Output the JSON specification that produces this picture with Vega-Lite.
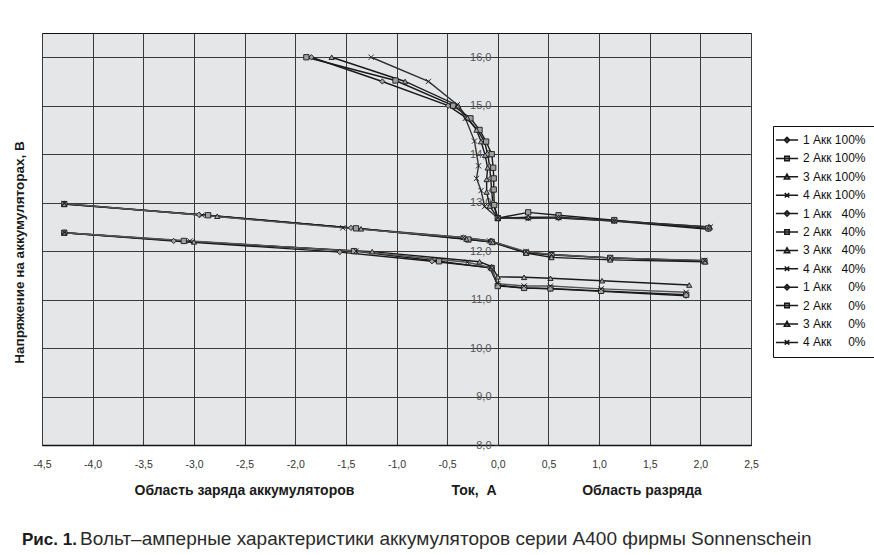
{
  "$schema": "https://vega.github.io/schema/vega-lite/v6.json",
  "width": 709,
  "height": 412,
  "autosize": {"type": "none"},
  "padding": {"left": 42, "top": 33, "right": 123, "bottom": 110},
  "background": "#ffffff",
  "config": {
    "view": {"fill": "#e5e6e8", "stroke": "#111111", "strokeWidth": 1},
    "axis": {"labelFlush": false, "labelOverlap": false, "gridColor": "#3a3a3a", "gridWidth": 1, "gridOpacity": 1}
  },
  "title": {
    "text": "Рис. 1.",
    "subtitle": "\u200b\u00a0\u00a0\u00a0\u00a0\u00a0\u00a0\u00a0\u00a0\u00a0\u00a0\u00a0Вольт–амперные характеристики аккумуляторов серии А400 фирмы Sonnenschein",
    "orient": "bottom",
    "anchor": "start",
    "frame": "group",
    "dx": -20,
    "offset": 35,
    "font": "Liberation Sans, Arial",
    "fontSize": 17,
    "fontWeight": "bold",
    "color": "#1a1a1a",
    "subtitleFont": "Liberation Sans, Arial",
    "subtitleFontSize": 19,
    "subtitleColor": "#2a2a2a",
    "subtitlePadding": -18.8
  },
  "datasets": {
    "iv": [
      {"s": "1 Акк 100%", "i": 0, "x": -1.84, "y": 16.0},
      {"s": "1 Акк 100%", "i": 1, "x": -1.14, "y": 15.5},
      {"s": "1 Акк 100%", "i": 2, "x": -0.49, "y": 15.0},
      {"s": "1 Акк 100%", "i": 3, "x": -0.31, "y": 14.75},
      {"s": "1 Акк 100%", "i": 4, "x": -0.2, "y": 14.5},
      {"s": "1 Акк 100%", "i": 5, "x": -0.13, "y": 14.25},
      {"s": "1 Акк 100%", "i": 6, "x": -0.1, "y": 14.0},
      {"s": "1 Акк 100%", "i": 7, "x": -0.08, "y": 13.75},
      {"s": "1 Акк 100%", "i": 8, "x": -0.07, "y": 13.5},
      {"s": "1 Акк 100%", "i": 9, "x": -0.06, "y": 13.25},
      {"s": "1 Акк 100%", "i": 10, "x": -0.05, "y": 13.0},
      {"s": "1 Акк 100%", "i": 11, "x": 0.0, "y": 12.68},
      {"s": "1 Акк 100%", "i": 12, "x": 0.3, "y": 12.68},
      {"s": "1 Акк 100%", "i": 13, "x": 0.6, "y": 12.68},
      {"s": "1 Акк 100%", "i": 14, "x": 1.15, "y": 12.62},
      {"s": "1 Акк 100%", "i": 15, "x": 2.08, "y": 12.45},

      {"s": "2 Акк 100%", "i": 0, "x": -1.89, "y": 16.0},
      {"s": "2 Акк 100%", "i": 1, "x": -1.01, "y": 15.52},
      {"s": "2 Акк 100%", "i": 2, "x": -0.44, "y": 15.0},
      {"s": "2 Акк 100%", "i": 3, "x": -0.27, "y": 14.74},
      {"s": "2 Акк 100%", "i": 4, "x": -0.18, "y": 14.5},
      {"s": "2 Акк 100%", "i": 5, "x": -0.115, "y": 14.26},
      {"s": "2 Акк 100%", "i": 6, "x": -0.06, "y": 14.0},
      {"s": "2 Акк 100%", "i": 7, "x": -0.045, "y": 13.72},
      {"s": "2 Акк 100%", "i": 8, "x": -0.04, "y": 13.5},
      {"s": "2 Акк 100%", "i": 9, "x": -0.04, "y": 13.27},
      {"s": "2 Акк 100%", "i": 10, "x": -0.035, "y": 12.95},
      {"s": "2 Акк 100%", "i": 11, "x": 0.0, "y": 12.68},
      {"s": "2 Акк 100%", "i": 12, "x": 0.3, "y": 12.8},
      {"s": "2 Акк 100%", "i": 13, "x": 0.6, "y": 12.74},
      {"s": "2 Акк 100%", "i": 14, "x": 1.15, "y": 12.64},
      {"s": "2 Акк 100%", "i": 15, "x": 2.08, "y": 12.47},

      {"s": "3 Акк 100%", "i": 0, "x": -1.64, "y": 16.0},
      {"s": "3 Акк 100%", "i": 1, "x": -0.915, "y": 15.5},
      {"s": "3 Акк 100%", "i": 2, "x": -0.39, "y": 15.0},
      {"s": "3 Акк 100%", "i": 3, "x": -0.3, "y": 14.75},
      {"s": "3 Акк 100%", "i": 4, "x": -0.21, "y": 14.5},
      {"s": "3 Акк 100%", "i": 5, "x": -0.165, "y": 14.26},
      {"s": "3 Акк 100%", "i": 6, "x": -0.125, "y": 13.98},
      {"s": "3 Акк 100%", "i": 7, "x": -0.1, "y": 13.72},
      {"s": "3 Акк 100%", "i": 8, "x": -0.11, "y": 13.48},
      {"s": "3 Акк 100%", "i": 9, "x": -0.11, "y": 13.22},
      {"s": "3 Акк 100%", "i": 10, "x": -0.08, "y": 12.93},
      {"s": "3 Акк 100%", "i": 11, "x": 0.0, "y": 12.68},
      {"s": "3 Акк 100%", "i": 12, "x": 0.3, "y": 12.7},
      {"s": "3 Акк 100%", "i": 13, "x": 0.6, "y": 12.7},
      {"s": "3 Акк 100%", "i": 14, "x": 1.15, "y": 12.63},
      {"s": "3 Акк 100%", "i": 15, "x": 2.09, "y": 12.5},

      {"s": "4 Акк 100%", "i": 0, "x": -1.25, "y": 16.0},
      {"s": "4 Акк 100%", "i": 1, "x": -0.685, "y": 15.5},
      {"s": "4 Акк 100%", "i": 2, "x": -0.4, "y": 15.02},
      {"s": "4 Акк 100%", "i": 3, "x": -0.32, "y": 14.74},
      {"s": "4 Акк 100%", "i": 4, "x": -0.23, "y": 14.27},
      {"s": "4 Акк 100%", "i": 5, "x": -0.19, "y": 13.76},
      {"s": "4 Акк 100%", "i": 6, "x": -0.21, "y": 13.5},
      {"s": "4 Акк 100%", "i": 7, "x": -0.165, "y": 13.25},
      {"s": "4 Акк 100%", "i": 8, "x": -0.13, "y": 12.92},
      {"s": "4 Акк 100%", "i": 9, "x": 0.0, "y": 12.68},
      {"s": "4 Акк 100%", "i": 10, "x": 0.3, "y": 12.67},
      {"s": "4 Акк 100%", "i": 11, "x": 0.6, "y": 12.69},
      {"s": "4 Акк 100%", "i": 12, "x": 1.15, "y": 12.62},
      {"s": "4 Акк 100%", "i": 13, "x": 2.1, "y": 12.5},

      {"s": "1 Акк 40%", "i": 0, "x": -4.28, "y": 12.98},
      {"s": "1 Акк 40%", "i": 1, "x": -2.95, "y": 12.75},
      {"s": "1 Акк 40%", "i": 2, "x": -1.45, "y": 12.48},
      {"s": "1 Акк 40%", "i": 3, "x": -0.34, "y": 12.28},
      {"s": "1 Акк 40%", "i": 4, "x": -0.07, "y": 12.21},
      {"s": "1 Акк 40%", "i": 5, "x": 0.28, "y": 11.98},
      {"s": "1 Акк 40%", "i": 6, "x": 0.53, "y": 11.93},
      {"s": "1 Акк 40%", "i": 7, "x": 1.11, "y": 11.86},
      {"s": "1 Акк 40%", "i": 8, "x": 2.04, "y": 11.8},

      {"s": "2 Акк 40%", "i": 0, "x": -4.28, "y": 12.97},
      {"s": "2 Акк 40%", "i": 1, "x": -2.86, "y": 12.74},
      {"s": "2 Акк 40%", "i": 2, "x": -1.4, "y": 12.47},
      {"s": "2 Акк 40%", "i": 3, "x": -0.29, "y": 12.24},
      {"s": "2 Акк 40%", "i": 4, "x": -0.06, "y": 12.19},
      {"s": "2 Акк 40%", "i": 5, "x": 0.28, "y": 11.97},
      {"s": "2 Акк 40%", "i": 6, "x": 0.53, "y": 11.92},
      {"s": "2 Акк 40%", "i": 7, "x": 1.11, "y": 11.86},
      {"s": "2 Акк 40%", "i": 8, "x": 2.04, "y": 11.79},

      {"s": "3 Акк 40%", "i": 0, "x": -4.28, "y": 12.97},
      {"s": "3 Акк 40%", "i": 1, "x": -2.77, "y": 12.72},
      {"s": "3 Акк 40%", "i": 2, "x": -1.35, "y": 12.46},
      {"s": "3 Акк 40%", "i": 3, "x": -0.31, "y": 12.25},
      {"s": "3 Акк 40%", "i": 4, "x": -0.05, "y": 12.18},
      {"s": "3 Акк 40%", "i": 5, "x": 0.28, "y": 11.96},
      {"s": "3 Акк 40%", "i": 6, "x": 0.53, "y": 11.87},
      {"s": "3 Акк 40%", "i": 7, "x": 1.11, "y": 11.82},
      {"s": "3 Акк 40%", "i": 8, "x": 2.05, "y": 11.78},

      {"s": "4 Акк 40%", "i": 0, "x": -4.28, "y": 12.98},
      {"s": "4 Акк 40%", "i": 1, "x": -2.92, "y": 12.74},
      {"s": "4 Акк 40%", "i": 2, "x": -1.53, "y": 12.48},
      {"s": "4 Акк 40%", "i": 3, "x": -0.34, "y": 12.28},
      {"s": "4 Акк 40%", "i": 4, "x": -0.08, "y": 12.21},
      {"s": "4 Акк 40%", "i": 5, "x": 0.28, "y": 11.99},
      {"s": "4 Акк 40%", "i": 6, "x": 0.53, "y": 11.93},
      {"s": "4 Акк 40%", "i": 7, "x": 1.11, "y": 11.86},
      {"s": "4 Акк 40%", "i": 8, "x": 2.04, "y": 11.81},

      {"s": "1 Акк 0%", "i": 0, "x": -4.28, "y": 12.38},
      {"s": "1 Акк 0%", "i": 1, "x": -3.2, "y": 12.21},
      {"s": "1 Акк 0%", "i": 2, "x": -1.56, "y": 11.98},
      {"s": "1 Акк 0%", "i": 3, "x": -0.65, "y": 11.79},
      {"s": "1 Акк 0%", "i": 4, "x": -0.08, "y": 11.66},
      {"s": "1 Акк 0%", "i": 5, "x": 0.0, "y": 11.3},
      {"s": "1 Акк 0%", "i": 6, "x": 0.26, "y": 11.24},
      {"s": "1 Акк 0%", "i": 7, "x": 0.52, "y": 11.22},
      {"s": "1 Акк 0%", "i": 8, "x": 1.02, "y": 11.17},
      {"s": "1 Акк 0%", "i": 9, "x": 1.86, "y": 11.08},

      {"s": "2 Акк 0%", "i": 0, "x": -4.28, "y": 12.38},
      {"s": "2 Акк 0%", "i": 1, "x": -3.1, "y": 12.21},
      {"s": "2 Акк 0%", "i": 2, "x": -1.42, "y": 12.0},
      {"s": "2 Акк 0%", "i": 3, "x": -0.58, "y": 11.79},
      {"s": "2 Акк 0%", "i": 4, "x": -0.06, "y": 11.65},
      {"s": "2 Акк 0%", "i": 5, "x": 0.0, "y": 11.28},
      {"s": "2 Акк 0%", "i": 6, "x": 0.26, "y": 11.24},
      {"s": "2 Акк 0%", "i": 7, "x": 0.52, "y": 11.23},
      {"s": "2 Акк 0%", "i": 8, "x": 1.02, "y": 11.18},
      {"s": "2 Акк 0%", "i": 9, "x": 1.86, "y": 11.1},

      {"s": "3 Акк 0%", "i": 0, "x": -4.28, "y": 12.38},
      {"s": "3 Акк 0%", "i": 1, "x": -3.0, "y": 12.19},
      {"s": "3 Акк 0%", "i": 2, "x": -1.24, "y": 11.99},
      {"s": "3 Акк 0%", "i": 3, "x": -0.18, "y": 11.78},
      {"s": "3 Акк 0%", "i": 4, "x": -0.06, "y": 11.68},
      {"s": "3 Акк 0%", "i": 5, "x": 0.0, "y": 11.47},
      {"s": "3 Акк 0%", "i": 6, "x": 0.26, "y": 11.46},
      {"s": "3 Акк 0%", "i": 7, "x": 0.52, "y": 11.44},
      {"s": "3 Акк 0%", "i": 8, "x": 1.03, "y": 11.39},
      {"s": "3 Акк 0%", "i": 9, "x": 1.89, "y": 11.3},

      {"s": "4 Акк 0%", "i": 0, "x": -4.28, "y": 12.38},
      {"s": "4 Акк 0%", "i": 1, "x": -3.04, "y": 12.21},
      {"s": "4 Акк 0%", "i": 2, "x": -1.4, "y": 12.0},
      {"s": "4 Акк 0%", "i": 3, "x": -0.3, "y": 11.77},
      {"s": "4 Акк 0%", "i": 4, "x": -0.07, "y": 11.66},
      {"s": "4 Акк 0%", "i": 5, "x": 0.0, "y": 11.33},
      {"s": "4 Акк 0%", "i": 6, "x": 0.26, "y": 11.28},
      {"s": "4 Акк 0%", "i": 7, "x": 0.52, "y": 11.28},
      {"s": "4 Акк 0%", "i": 8, "x": 1.02, "y": 11.22},
      {"s": "4 Акк 0%", "i": 9, "x": 1.86, "y": 11.15}
    ]
  },
  "data": {"name": "iv"},
  "resolve": {"scale": {"shape": "independent"}},
  "encoding": {
    "x": {
      "field": "x", "type": "quantitative",
      "scale": {"domain": [-4.5, 2.5], "nice": false, "zero": false},
      "axis": {
        "values": [-4.5, -4, -3.5, -3, -2.5, -2, -1.5, -1, -0.5, 0, 0.5, 1, 1.5, 2, 2.5],
        "labelExpr": "replace(replace(format(datum.value, '.1f'), '.', ','), '\u2212', '-')",
        "title": "Область заряда аккумуляторов\u00a0\u00a0\u00a0\u00a0\u00a0\u00a0\u00a0\u00a0\u00a0\u00a0\u00a0\u00a0\u00a0\u00a0\u00a0\u00a0\u00a0\u00a0\u00a0\u00a0\u00a0\u00a0\u00a0\u00a0\u00a0Ток,\u00a0\u00a0А\u00a0\u00a0\u00a0\u00a0\u00a0\u00a0\u00a0\u00a0\u00a0\u00a0\u00a0\u00a0\u00a0\u00a0\u00a0\u00a0\u00a0\u00a0\u00a0\u00a0\u00a0\u00a0Область разряда",
        "titleFont": "Liberation Sans, Arial",
        "titleFontSize": 14,
        "titleFontWeight": "bold",
        "titleColor": "#1a1a1a",
        "titleAlign": "left",
        "titleAnchor": null,
        "titleX": 92,
        "titleY": 45,
        "titleBaseline": "middle",
        "labelFont": "Liberation Sans, Arial",
        "labelFontSize": 10.5,
        "labelColor": "#333333",
        "labelPadding": 14,
        "ticks": false,
        "domainColor": "#111111",
        "domainWidth": 1.5,
        "grid": true
      }
    },
    "y": {
      "field": "y", "type": "quantitative",
      "scale": {"domain": [8, 16.5], "nice": false, "zero": false},
      "axis": {
        "values": [8, 9, 10, 11, 12, 13, 14, 15, 16],
        "offset": -456,
        "labelExpr": "replace(format(datum.value, '.1f'), '.', ',')",
        "title": "Напряжение на аккумуляторах, В",
        "titleFont": "Liberation Sans, Arial",
        "titleFontSize": 13.5,
        "titleFontWeight": "bold",
        "titleColor": "#1a1a1a",
        "titleX": -479,
        "titleY": 219,
        "titleAngle": -90,
        "titleAlign": "center",
        "titleBaseline": "middle",
        "labelFont": "Liberation Sans, Arial",
        "labelFontSize": 11,
        "labelColor": "#555555",
        "labelPadding": 3,
        "tickSize": 4,
        "tickColor": "#333333",
        "domainColor": "#333333",
        "grid": true
      }
    }
  },
  "layer": [
    {
      "mark": {"type": "line", "strokeWidth": 1.4, "interpolate": "linear"},
      "encoding": {
        "detail": {"field": "s"},
        "order": {"field": "i", "type": "quantitative"},
        "color": {
          "field": "s", "type": "nominal", "legend": null,
          "scale": {
            "domain": ["1 Акк 100%", "2 Акк 100%", "3 Акк 100%", "4 Акк 100%", "1 Акк 40%", "2 Акк 40%", "3 Акк 40%", "4 Акк 40%", "1 Акк 0%", "2 Акк 0%", "3 Акк 0%", "4 Акк 0%"],
            "range": ["#1a1a1a", "#1a1a1a", "#1a1a1a", "#333333", "#1a1a1a", "#1a1a1a", "#1a1a1a", "#555555", "#1a1a1a", "#1a1a1a", "#1a1a1a", "#555555"]
          }
        }
      }
    },
    {
      "mark": {"type": "point", "filled": true, "fill": "#a0a0a0", "stroke": "#1a1a1a", "strokeWidth": 0.9, "size": 28, "opacity": 1},
      "encoding": {
        "shape": {
          "field": "s", "type": "nominal", "legend": null,
          "scale": {
            "domain": ["1 Акк 100%", "2 Акк 100%", "3 Акк 100%", "4 Акк 100%", "1 Акк 40%", "2 Акк 40%", "3 Акк 40%", "4 Акк 40%", "1 Акк 0%", "2 Акк 0%", "3 Акк 0%", "4 Акк 0%"],
            "range": ["diamond", "square", "triangle-up", "M-1,-1L1,1M-1,1L1,-1", "diamond", "square", "triangle-up", "M-1,-1L1,1M-1,1L1,-1", "diamond", "square", "triangle-up", "M-1,-1L1,1M-1,1L1,-1"]
          }
        }
      }
    },
    {
      "transform": [{"filter": "datum.i == 0"}],
      "mark": {"type": "point", "filled": true, "fill": "#a0a0a0", "stroke": "#1a1a1a", "strokeWidth": 1, "size": 36},
      "encoding": {
        "opacity": {"value": 0},
        "shape": {
          "field": "s", "type": "nominal",
          "scale": {
            "domain": ["1 Акк 100%", "2 Акк 100%", "3 Акк 100%", "4 Акк 100%", "1 Акк 40%", "2 Акк 40%", "3 Акк 40%", "4 Акк 40%", "1 Акк 0%", "2 Акк 0%", "3 Акк 0%", "4 Акк 0%"],
            "range": [
              "M-3.7,0L3.7,0M0,-0.9L0.9,0L0,0.9L-0.9,0Z",
              "M-3.7,0L3.7,0M-0.75,-0.75L0.75,-0.75L0.75,0.75L-0.75,0.75Z",
              "M-3.7,0L3.7,0M0,-0.9L0.9,0.75L-0.9,0.75Z",
              "M-3.7,0L3.7,0M-0.75,-0.75L0.75,0.75M-0.75,0.75L0.75,-0.75",
              "M-3.7,0L3.7,0M0,-0.9L0.9,0L0,0.9L-0.9,0Z",
              "M-3.7,0L3.7,0M-0.75,-0.75L0.75,-0.75L0.75,0.75L-0.75,0.75Z",
              "M-3.7,0L3.7,0M0,-0.9L0.9,0.75L-0.9,0.75Z",
              "M-3.7,0L3.7,0M-0.75,-0.75L0.75,0.75M-0.75,0.75L0.75,-0.75",
              "M-3.7,0L3.7,0M0,-0.9L0.9,0L0,0.9L-0.9,0Z",
              "M-3.7,0L3.7,0M-0.75,-0.75L0.75,-0.75L0.75,0.75L-0.75,0.75Z",
              "M-3.7,0L3.7,0M0,-0.9L0.9,0.75L-0.9,0.75Z",
              "M-3.7,0L3.7,0M-0.75,-0.75L0.75,0.75M-0.75,0.75L0.75,-0.75"
            ]
          },
          "legend": {
            "title": null,
            "orient": "none",
            "legendX": 731,
            "legendY": 93,
            "strokeColor": "#111111",
            "fillColor": "#ffffff",
            "padding": 8,
            "labelFont": "Liberation Sans, Arial",
            "labelFontSize": 12,
            "labelColor": "#111111",
            "labelOffset": 10,
            "symbolSize": 36,
            "rowPadding": 6.4,
            "encode": {
              "symbols": {
                "update": {
                  "stroke": {"value": "#1a1a1a"},
                  "fill": {"value": "#a0a0a0"},
                  "strokeWidth": {"value": 1},
                  "opacity": {"value": 1}
                }
              }
            },
            "labelExpr": "indexof(datum.label, ' 40%') >= 0 ? replace(datum.label, ' 40%', '\u00a0\u00a0\u00a040%') : (indexof(datum.label, ' 0%') >= 0 ? replace(datum.label, ' 0%', '\u00a0\u00a0\u00a0\u00a0\u00a00%') : datum.label)"
          }
        }
      }
    }
  ]
}
